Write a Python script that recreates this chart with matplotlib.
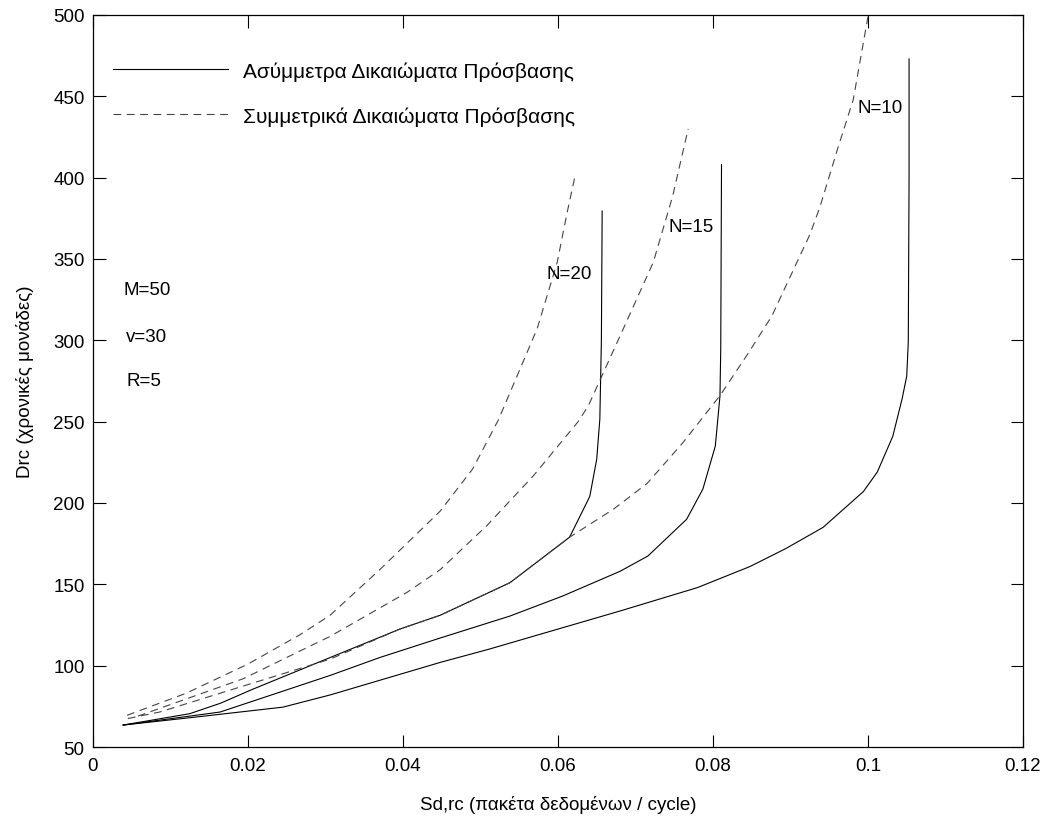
import matplotlib
matplotlib.use('Agg')
import matplotlib.pyplot as plt
from matplotlib.ticker import FuncFormatter

plt.rcParams['font.family'] = ['Liberation Sans', 'DejaVu Sans']

# Asymmetric access rights (solid lines)
x_asym_10 = [0.0039, 0.0125, 0.0245, 0.0306, 0.0448, 0.051, 0.068, 0.078, 0.0848, 0.0894,
             0.0942, 0.0994, 0.1012, 0.1032, 0.1044, 0.105, 0.1052, 0.1053, 0.1053]
y_asym_10 = [63.5, 68, 74.5, 82, 102, 110, 133.6, 148, 161, 172,
             185, 207, 219, 241, 264, 278, 299, 400, 473]

x_asym_15 = [0.0039, 0.0164, 0.0306, 0.037, 0.0448, 0.0538, 0.0606, 0.068, 0.0716, 0.0766,
             0.0787, 0.0803, 0.0809, 0.081, 0.0811]
y_asym_15 = [63.5, 71.5, 94, 105, 117, 130.5, 142.8, 158, 167.4, 190,
             208.6, 235, 265.8, 294.6, 408]

x_asym_20 = [0.0039, 0.0125, 0.0165, 0.0206, 0.0306, 0.0396, 0.0448, 0.0538, 0.0615, 0.0641,
             0.065, 0.0654, 0.0656, 0.0657]
y_asym_20 = [63.5, 70.5, 77, 85.5, 105, 122.5, 131, 151, 179, 204,
             227, 251.6, 300, 379.5]

# Symmetric access rights (dashed lines)
x_sym_10 = [0.0045, 0.0086, 0.0194, 0.0306, 0.0396, 0.0448, 0.0538, 0.0615, 0.0671, 0.0715,
            0.0761, 0.0809, 0.0844, 0.0876, 0.0925, 0.0938, 0.0961, 0.0981, 0.1]
y_sym_10 = [67.5, 71.5, 87.5, 104, 122.5, 131, 151, 179, 196, 212,
            237, 266, 291, 315, 365, 382, 418, 448, 499]

x_sym_15 = [0.0058, 0.0194, 0.0267, 0.0306, 0.0405, 0.0448, 0.0508, 0.0568, 0.0626, 0.0639,
            0.068, 0.0723, 0.0748, 0.0768]
y_sym_15 = [69, 92, 109, 118, 145, 159, 186, 216.6, 250, 259.6,
            302.6, 348, 388.7, 430]

x_sym_20 = [0.0044, 0.012, 0.02, 0.0267, 0.0306, 0.037, 0.0448, 0.049, 0.0523, 0.0573,
            0.0599, 0.0612, 0.0622]
y_sym_20 = [69.5, 83, 101, 119, 131, 159, 195, 221, 251, 307,
            348, 379, 401]

# curve labels: (text, x, y)
curve_labels = [('N=20', 0.0585, 341), ('N=15', 0.0743, 369.7), ('N=10', 0.0986, 443.4)]
param_labels = [('M=50', 0.0039, 331), ('v=30', 0.0043, 302.6), ('R=5', 0.0043, 275.6)]

fs = 13.5
fig = plt.figure(figsize=(10.46, 8.2), dpi=100)
ax = fig.add_axes([0.0889, 0.0878, 0.8891, 0.8927])

solid_kw = dict(color='black', linewidth=0.8, linestyle='-')
dash_kw = dict(color='#444444', linewidth=0.8, linestyle=(0, (7, 5)))

h1, = ax.plot(x_asym_10, y_asym_10, **solid_kw)
ax.plot(x_asym_15, y_asym_15, **solid_kw)
ax.plot(x_asym_20, y_asym_20, **solid_kw)
h2, = ax.plot(x_sym_10, y_sym_10, **dash_kw)
ax.plot(x_sym_15, y_sym_15, **dash_kw)
ax.plot(x_sym_20, y_sym_20, **dash_kw)

for txt, x, y in curve_labels + param_labels:
    ax.text(x, y, txt, fontsize=fs, ha='left', va='center')

ax.legend([h1, h2], ['Ασύμμετρα Δικαιώματα Πρόσβασης', 'Συμμετρικά Δικαιώματα Πρόσβασης'],
          loc='upper left', bbox_to_anchor=(0.0215, 0.937), frameon=False,
          borderaxespad=0, borderpad=0, handlelength=5.5, handletextpad=0.72,
          labelspacing=1.22, fontsize=15)

ax.set_xlim(0, 0.12)
ax.set_ylim(50, 500)
ax.set_xticks([0, 0.02, 0.04, 0.06, 0.08, 0.1, 0.12])
ax.set_yticks(range(50, 501, 50))
ax.xaxis.set_major_formatter(FuncFormatter(lambda v, p: '%g' % v))
ax.tick_params(direction='in', length=9, width=0.8, top=True, right=True,
               labelsize=fs)
ax.tick_params(axis='x', pad=7)
ax.tick_params(axis='y', pad=6)
for s in ax.spines.values():
    s.set_linewidth(0.9)

ax.set_xlabel('Sd,rc (πακέτα δεδομένων / cycle)', fontsize=fs, labelpad=15)
ax.set_ylabel('Drc (χρονικές μονάδες)', fontsize=fs, labelpad=14)

fig.savefig('out.png', dpi=100)
